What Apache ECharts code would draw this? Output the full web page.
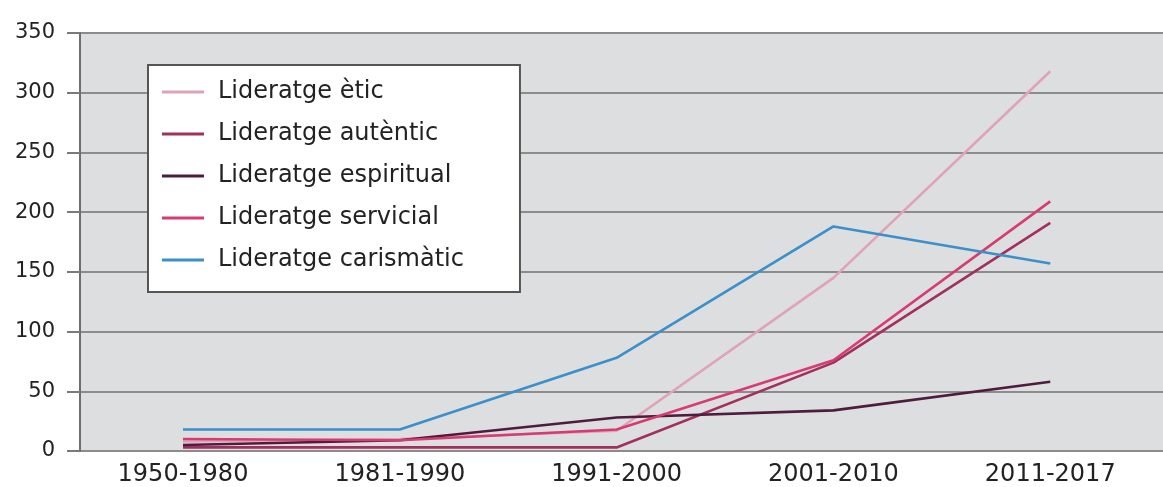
<!DOCTYPE html>
<html>
<head>
<meta charset="utf-8">
<script src="https://cdn.jsdelivr.net/npm/echarts@6/dist/echarts.min.js"></script>
<style>
html,body{margin:0;padding:0;background:#fff;}
#chart{width:1163px;height:487px;}
</style>
</head>
<body>
<div id="chart"></div>
<script>
const categories = ['1950-1980', '1981-1990', '1991-2000', '2001-2010', '2011-2017'];
const eticValues = [8, 10, 17, 145, 318];
const autenticValues = [3, 3, 3, 74, 191];
const espiritualValues = [5, 9, 28, 34, 58];
const servicialValues = [10, 9, 18, 76, 209];
const carismaticValues = [18, 18, 78, 188, 157];
const seriesNames = ['Lideratge ètic', 'Lideratge autèntic', 'Lideratge espiritual', 'Lideratge servicial', 'Lideratge carismàtic'];
const yTicks = [0, 50, 100, 150, 200, 250, 300, 350];

const FONT = '"DejaVu Sans", "Liberation Sans", Arial, sans-serif';
const colors = ['#e0a3b6', '#a2305d', '#4f1c3d', '#d83a72', '#3c8fc8'];
const valueSets = [eticValues, autenticValues, espiritualValues, servicialValues, carismaticValues];

const chart = echarts.init(document.getElementById('chart'), null, {renderer: 'canvas'});
chart.setOption({
  animation: false,
  backgroundColor: '#ffffff',
  grid: {
    left: 80, right: 0, top: 33, bottom: 36,
    show: true, backgroundColor: '#dcdee0', borderWidth: 0,
    containLabel: false
  },
  legend: {
    orient: 'vertical',
    left: 148, top: 65,
    padding: [14, 56, 19, 14],
    itemGap: 16,
    itemWidth: 42, itemHeight: 3,
    icon: 'rect',
    backgroundColor: '#ffffff',
    borderColor: '#555555', borderWidth: 2, borderRadius: 0,
    data: seriesNames,
    textStyle: {fontFamily: FONT, fontSize: 24, lineHeight: 26, color: '#222', padding: [0, 0, 0, 9]}
  },
  xAxis: {
    type: 'value',
    min: -0.475, max: 4.52,
    axisLine: {show: false, onZero: false},
    axisTick: {show: false},
    splitLine: {show: false},
    axisLabel: {
      customValues: categories.map((c, i) => i),
      formatter: v => categories[Math.round(v)] || '',
      fontFamily: FONT, fontSize: 24, color: '#222', margin: 12
    }
  },
  yAxis: {
    type: 'value',
    min: yTicks[0], max: yTicks[yTicks.length - 1], interval: 50,
    axisLine: {show: true, onZero: false, lineStyle: {color: '#6e6e6e', width: 2}},
    axisTick: {show: true, length: 13, lineStyle: {color: '#7a7a7a', width: 2}},
    splitLine: {show: true, lineStyle: {color: '#8c8c8c', width: 2}},
    axisLabel: {fontFamily: FONT, fontSize: 21, color: '#222', margin: 25, padding: [0, 0, 8, 0]}
  },
  series: seriesNames.map((name, k) => ({
    name: name,
    type: 'line',
    showSymbol: false,
    symbol: 'none',
    color: colors[k],
    lineStyle: {width: 2.6, color: colors[k]},
    data: valueSets[k].map((v, i) => [i, v])
  }))
});
</script>
</body>
</html>
